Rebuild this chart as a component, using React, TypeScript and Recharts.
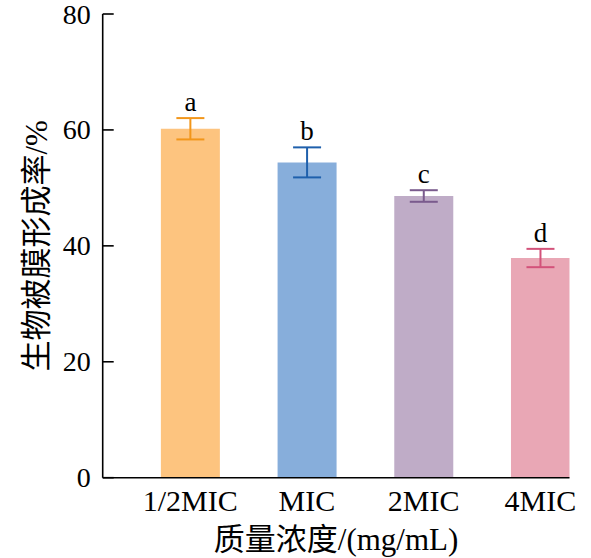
import React from "react";
import { BarChart, Bar, XAxis, YAxis, ErrorBar, Cell, LabelList } from "recharts";

// Biofilm formation rate at each concentration, with SD and significance letters.
const CATEGORIES = ["1/2MIC", "MIC", "2MIC", "4MIC"];
const VALUES = [60.2, 54.4, 48.6, 37.9];
const ERRORS = [1.84, 2.59, 1.0, 1.58];
const LETTERS = ["a", "b", "c", "d"];
const Y_TICKS = [0, 20, 40, 60, 80];

const BAR_COLORS = ["#FDC47F", "#87AEDB", "#BFACC7", "#E9A7B5"];
const ERR_COLORS = ["#F2961A", "#1F60AC", "#7A5B8D", "#D3527A"];

const X_LABEL = "质量浓度/(mg/mL)";
const Y_LABEL = "生物被膜形成率/%";

const FONT = "'Liberation Serif', 'Times New Roman', 'Noto Sans CJK SC', serif";

const data = CATEGORIES.map((name, i) => ({
  pos: i,
  name,
  value: VALUES[i],
  err: ERRORS[i],
  letter: LETTERS[i],
}));

function YTick(props: any) {
  const { x, y, payload } = props;
  return (
    <g>
      <line x1={x + 12} x2={x + 23} y1={y} y2={y} stroke="#000" strokeWidth={1.6} />
      <text
        x={x}
        y={y}
        textAnchor="end"
        dominantBaseline="central"
        fontSize={28}
        fontFamily={FONT}
        fill="#000"
      >
        {payload.value}
      </text>
    </g>
  );
}

function XTick(props: any) {
  const { x, y, payload } = props;
  return (
    <text
      x={x}
      y={y}
      dy={19}
      textAnchor="middle"
      fontSize={30}
      fontFamily={FONT}
      fill="#000"
    >
      {CATEGORIES[payload.value]}
    </text>
  );
}

function LetterLabel(props: any) {
  const { x, y, width, height, index } = props;
  const ppu = height / VALUES[index];
  const top = y - ERRORS[index] * ppu;
  return (
    <text
      x={x + width / 2}
      y={top - 7}
      textAnchor="middle"
      fontSize={27}
      fontFamily={FONT}
      fill="#000"
    >
      {LETTERS[index]}
    </text>
  );
}

export default function App() {
  return (
    <div style={{ position: "absolute", left: 0, top: 0, background: "#fff" }}>
      <BarChart
        width={591}
        height={558}
        data={data}
        margin={{ top: 14, right: 21.5, bottom: 0, left: 0 }}
      >
        <XAxis
          type="number"
          dataKey="pos"
          domain={[-0.75, 3.25]}
          ticks={[0, 1, 2, 3]}
          allowDataOverflow
          height={80.3}
          tickLine={false}
          tickSize={0}
          tickMargin={14}
          tick={<XTick />}
          axisLine={{ stroke: "#000", strokeWidth: 1.6 }}
          label={(p: any) => {
            const vb = p.viewBox;
            return (
              <text
                x={vb.x + vb.width / 2}
                y={vb.y + 62}
                textAnchor="middle"
                dominantBaseline="central"
                fontSize={31}
                fontFamily={FONT}
                fill="#000"
              >
                {X_LABEL}
              </text>
            );
          }}
        />
        <YAxis
          type="number"
          domain={[0, 80]}
          ticks={Y_TICKS}
          width={102.7}
          tickLine={false}
          tickSize={0}
          tickMargin={12}
          tick={<YTick />}
          axisLine={{ stroke: "#000", strokeWidth: 1.6 }}
          label={(p: any) => {
            const vb = p.viewBox;
            const cx = vb.x + 36.5;
            const cy = vb.y + vb.height / 2;
            return (
              <text
                x={cx}
                y={cy}
                transform={`rotate(-90, ${cx}, ${cy})`}
                textAnchor="middle"
                dominantBaseline="central"
                fontSize={31}
                fontFamily={FONT}
                fill="#000"
              >
                {Y_LABEL}
              </text>
            );
          }}
        />
        <Bar dataKey="value" barSize={59} isAnimationActive={false}>
          {data.map((d, i) => (
            <Cell key={d.name} fill={BAR_COLORS[i]} />
          ))}
          {CATEGORIES.map((c, i) => (
            <ErrorBar
              key={c}
              dataKey={(entry: any) => (entry.name === c ? entry.err : null)}
              width={14}
              stroke={ERR_COLORS[i]}
              strokeWidth={2}
              direction="y"
              isAnimationActive={false}
            />
          ))}
          <LabelList dataKey="letter" content={<LetterLabel />} />
        </Bar>
      </BarChart>
    </div>
  );
}
